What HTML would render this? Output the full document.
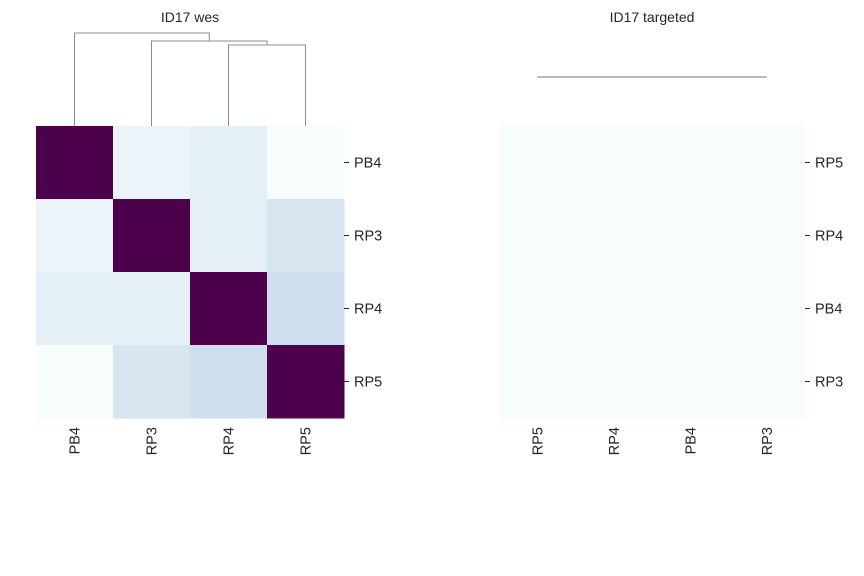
<!DOCTYPE html>
<html><head><meta charset="utf-8"><style>
html,body{margin:0;padding:0;background:#fff;}
svg{display:block;font-family:"Liberation Sans",Arial,sans-serif;}
</style></head><body>
<svg id="c" width="864" height="576" xmlns="http://www.w3.org/2000/svg"></svg>
<script>
const leftLabels = ['PB4','RP3','RP4','RP5'];
const leftValues = [
  [1.00,0.06,0.10,0.00],
  [0.06,1.00,0.10,0.16],
  [0.10,0.10,1.00,0.19],
  [0.00,0.16,0.19,1.00]
];
const rightColLabels = ['RP5','RP4','PB4','RP3'];
const rightRowLabels = ['RP5','RP4','PB4','RP3'];
const rightValues = [[0,0,0,0],[0,0,0,0],[0,0,0,0],[0,0,0,0]];
// dendrogram merges: [left pos, right pos, height]
const leftLinks = [[2,3,0.505],[1,2.5,0.53],[0,1.75,0.58]];
const rightLinks = [[2,3,0.0],[1,2.5,0.0],[0,1.75,0.0]];

const NS='http://www.w3.org/2000/svg';
const svg=document.getElementById('c');
function mk(t,a,p){const e=document.createElementNS(NS,t);for(const k in a)e.setAttribute(k,a[k]);(p||svg).appendChild(e);return e;}
const stops=['#f7fcfd','#e0ecf4','#bfd3e6','#9ebcda','#8c96c6','#8c6bb1','#88419d','#810f7c','#4d004b'];
function hx(h){return [1,3,5].map(i=>parseInt(h.substr(i,2),16));}
function cmap(v){v=Math.max(0,Math.min(1,v));const f=v*8,i=Math.min(7,Math.floor(f)),t=f-i;const a=hx(stops[i]),b=hx(stops[i+1]);return 'rgb('+a.map((x,k)=>Math.round(x+(b[k]-x)*t)).join(',')+')';}

function panel(x0,x1,title,colL,rowL,vals,links,dendTop,dendBase,dname){
  const y0=126,y1=418,n=colL.length;
  const cw=(x1-x0)/n,ch=(y1-y0)/n;
  const g=mk('g',{});
  
  
  const t=mk('text',{x:(x0+x1)/2,y:22,'text-anchor':'middle','font-size':14,fill:'#262626'},g);
  t.textContent=title;
  
  
  for(let r=0;r<n;r++)for(let c=0;c<n;c++){
    const rc=mk('rect',{x:x0+c*cw,y:y0+r*ch,width:cw+0.5,height:ch+0.5,fill:cmap(vals[r][c])},g);
    
    
  }
  rowL.forEach((l,i)=>{
    const y=y0+(i+0.5)*ch;
    mk('line',{x1:x1,x2:x1+5,y1:y,y2:y,stroke:'#262626','stroke-width':1},g);
    const tx=mk('text',{x:x1+10,y:y+5,'font-size':14.5,fill:'#262626'},g);
    tx.textContent=l;
    
    
  });
  colL.forEach((l,i)=>{
    const x=x0+(i+0.5)*cw;
    const tx=mk('text',{x:0,y:0,'font-size':14.5,fill:'#262626','text-anchor':'end',transform:`translate(${x+5},427) rotate(-90)`},g);
    tx.textContent=l;
    
    
  });
  const flat=links.every(l=>l[2]===0);
  const maxH=Math.max(...links.map(l=>l[2]))||1;
  const hy=h=>flat?77:dendBase-(h/maxH)*(dendBase-dendTop);
  const leafY=flat?77:y0;
  const px=p=>x0+(p+0.5)*cw;
  const nodeH={};
  links.forEach(([a,b,h])=>{
    const ya=nodeH[a]!==undefined?hy(nodeH[a]):leafY, yb=nodeH[b]!==undefined?hy(nodeH[b]):leafY;
    const yh=hy(h);
    const p=mk('path',{d:`M${px(a)},${ya}V${yh}H${px(b)}V${yb}`,fill:'none',stroke:flat?'#707070':'#8c8c8c','stroke-width':1},g);
    
    
    nodeH[(a+b)/2]=h;
  });
}
panel(36,344,'ID17 wes',leftLabels,leftLabels,leftValues,leftLinks,33,126,'wes-heatmap');
panel(499,805,'ID17 targeted',rightColLabels,rightRowLabels,rightValues,rightLinks,77,77,'targeted-heatmap');
</script>
</body></html>
